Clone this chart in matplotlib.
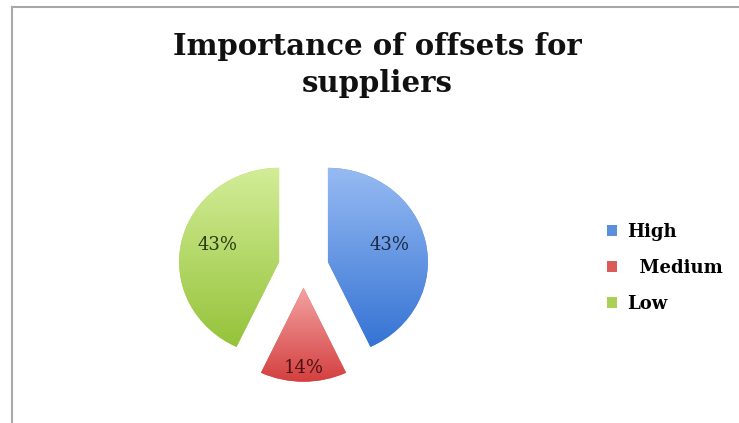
import numpy as np
import matplotlib
matplotlib.use('Agg')
import matplotlib.pyplot as plt
from matplotlib.colors import LinearSegmentedColormap
from matplotlib.lines import Line2D

# %% Data
categories = ['High', 'Medium', 'Low']
shares = [43, 14, 43]
legend_labels = ['High', '  Medium', 'Low']
title_lines = ['Importance of offsets for', 'suppliers']

# %% Style
explode = [0.25, 0.22, 0.25]
base_colors = ['#5b8fdc', '#dd5a5a', '#a9d155']
grad_top = ['#97bbf3', '#f4a3a3', '#d3ed98']
grad_bottom = ['#3573d4', '#d43f3f', '#95c33a']
label_colors = ['#1b2a45', '#4a1212', '#2c3b12']
label_r = [0.64, 0.85, 0.64]
label_shift = [4, 0, -4]

W, H, DPI = 739, 423, 100
cx, cy = 303.5, 267.0      # pie centre in pixels
rx, ry = 100.0, 94.0       # pixels per data unit (pie is slightly flattened)

fig = plt.figure(figsize=(W / DPI, H / DPI), dpi=DPI)
fig.patch.set_facecolor('white')
ax = fig.add_axes([0, 0, 1, 1])
ax.set_axis_off()

# %% Pie
wedges, _ = ax.pie(shares, explode=explode, startangle=90,
                   counterclock=False, colors=base_colors,
                   radius=1, center=(0, 0),
                   wedgeprops=dict(linewidth=0, edgecolor='none'))

# vertical gradient fill clipped to each slice
grad = np.linspace(0, 1, 256).reshape(-1, 1)
for w, top, bot in zip(wedges, grad_top, grad_bottom):
    v = w.get_path().vertices
    cmap = LinearSegmentedColormap.from_list('g', [bot, top])
    im = ax.imshow(grad, cmap=cmap, origin='lower', aspect='auto',
                   extent=[v[:, 0].min(), v[:, 0].max(),
                           v[:, 1].min(), v[:, 1].max()],
                   zorder=2, interpolation='bilinear')
    im.set_clip_path(w)

# percentage labels
total = sum(shares)
for w, s, rr, sh, c in zip(wedges, shares, label_r, label_shift, label_colors):
    ang = np.deg2rad((w.theta1 + w.theta2) / 2 + sh)
    x0, y0 = w.center
    ax.text(x0 + rr * np.cos(ang), y0 + rr * np.sin(ang),
            f'{round(s / total * 100)}%', ha='center', va='center',
            fontsize=13, family='DejaVu Serif', color=c, zorder=3)

ax.set_xlim(-cx / rx, (W - cx) / rx)
ax.set_ylim(-(H - cy) / ry, cy / ry)
ax.set_aspect('auto')

# %% Title (two lines, baselines at 55 px and 92 px)
for line, base in zip(title_lines, [55, 92]):
    fig.text(0.51, 1 - base / H, line, ha='center', va='baseline',
             fontsize=21, fontweight='bold', family='DejaVu Serif',
             color='#111111')

# %% Legend
fig.legend(wedges, legend_labels, loc='center left',
           bbox_to_anchor=(607 / W, 1 - 268 / H), frameon=False,
           borderpad=0, borderaxespad=0, handlelength=0.55,
           handleheight=0.55, handletextpad=0.55, labelspacing=0.98,
           prop=dict(family='DejaVu Serif', weight='bold', size=13))

# %% Chart frame (top and left edges)
fig.add_artist(Line2D([12 / W, 1], [1 - 7 / H, 1 - 7 / H],
                      transform=fig.transFigure, color='#a8a8a8', lw=1.5))
fig.add_artist(Line2D([12 / W, 12 / W], [0, 1 - 7 / H],
                      transform=fig.transFigure, color='#a8a8a8', lw=1.5))

fig.savefig('out.png', dpi=DPI, facecolor='white')
